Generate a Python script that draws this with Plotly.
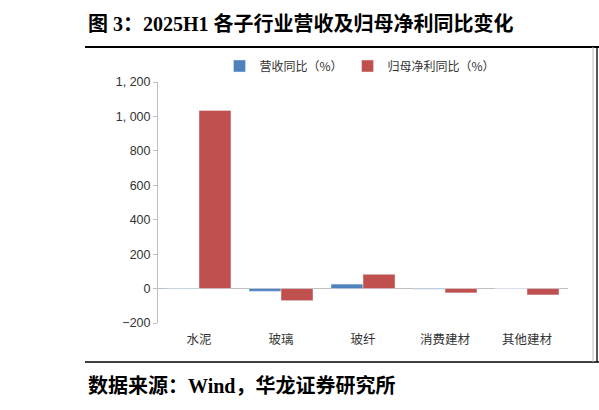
import plotly.graph_objects as go

# 数据：2025H1 各子行业营收及归母净利同比（%）
categorias = ['水泥', '玻璃', '玻纤', '消费建材', '其他建材']
receita_yoy = [-2, -16, 26, -3, 0]
lucro_yoy = [1035, -70, 83, -25, -37]
y_ticks = [-200, 0, 200, 400, 600, 800, 1000, 1200]
y_tick_txt = ['\u2212200', '0', '200', '400', '600', '800', '1, 000', '1, 200']

W, H = 599, 410
L, R, T, B = 158, 568, 82, 323

def px_x(px):
    return (px - L) / (R - L)

def px_y(py):
    return (B - py) / (B - T)

fig = go.Figure()
fig.add_trace(go.Bar(x=categorias, y=receita_yoy, name='营收同比（%）',
                     marker_color='#4F81BD'))
fig.add_trace(go.Bar(x=categorias, y=lucro_yoy, name='归母净利同比（%）',
                     marker_color='#C0504D'))

fig.update_layout(
    width=W, height=H,
    margin=dict(l=L, r=W - R, t=T, b=H - B),
    paper_bgcolor='white', plot_bgcolor='white',
    barmode='group', bargap=0.22, bargroupgap=0,
    font=dict(family='Noto Sans CJK SC', color='#333333', size=12),
    legend=dict(orientation='h', x=px_x(360), y=px_y(66), xanchor='center', yanchor='middle',
                font=dict(size=12, color='#333333'), itemwidth=30, traceorder='normal',
                bgcolor='rgba(0,0,0,0)'),
    showlegend=True,
)

fig.update_xaxes(showline=False, showgrid=False, zeroline=False, ticks='',
                 tickfont=dict(family='Noto Sans CJK SC', size=12.5, color='#333333'),
                 ticklabelstandoff=7)
fig.update_yaxes(range=[-200, 1200], tickvals=y_ticks, ticktext=y_tick_txt,
                 showgrid=False, showline=True, linecolor='#BFBFBF', linewidth=1,
                 ticks='outside', ticklen=4, tickcolor='#BFBFBF',
                 zeroline=True, zerolinecolor='#BFBFBF', zerolinewidth=1,
                 tickfont=dict(family='Liberation Sans', size=12.5, color='#333333'))

# moldura da pagina
fig.add_shape(type='line', xref='paper', yref='paper', x0=px_x(85), x1=px_x(599),
              y0=px_y(47), y1=px_y(47), line=dict(color='black', width=2))
fig.add_shape(type='line', xref='paper', yref='paper', x0=px_x(85), x1=px_x(599),
              y0=px_y(362), y1=px_y(362), line=dict(color='black', width=1.5))
fig.add_shape(type='line', xref='paper', yref='paper', x0=px_x(593), x1=px_x(593),
              y0=px_y(47), y1=px_y(362), line=dict(color='#BFBFBF', width=1))
fig.add_shape(type='line', xref='paper', yref='paper', x0=px_x(597), x1=px_x(597),
              y0=px_y(47), y1=px_y(362), line=dict(color='black', width=1.3))

fig.add_annotation(text='<b>图 3：2025H1 各子行业营收及归母净利同比变化</b>',
                   xref='paper', yref='paper', x=px_x(86), y=px_y(24),
                   xanchor='left', yanchor='middle', showarrow=False,
                   font=dict(family='Liberation Serif, Noto Sans CJK SC', size=20, color='black'))
fig.add_annotation(text='<b>数据来源：Wind，华龙证券研究所</b>',
                   xref='paper', yref='paper', x=px_x(86), y=px_y(385),
                   xanchor='left', yanchor='middle', showarrow=False,
                   font=dict(family='Liberation Serif, Noto Sans CJK SC', size=20, color='black'))

fig.write_html('out.html', config={'displayModeBar': False},
               post_script="document.body.style.margin='0';")
